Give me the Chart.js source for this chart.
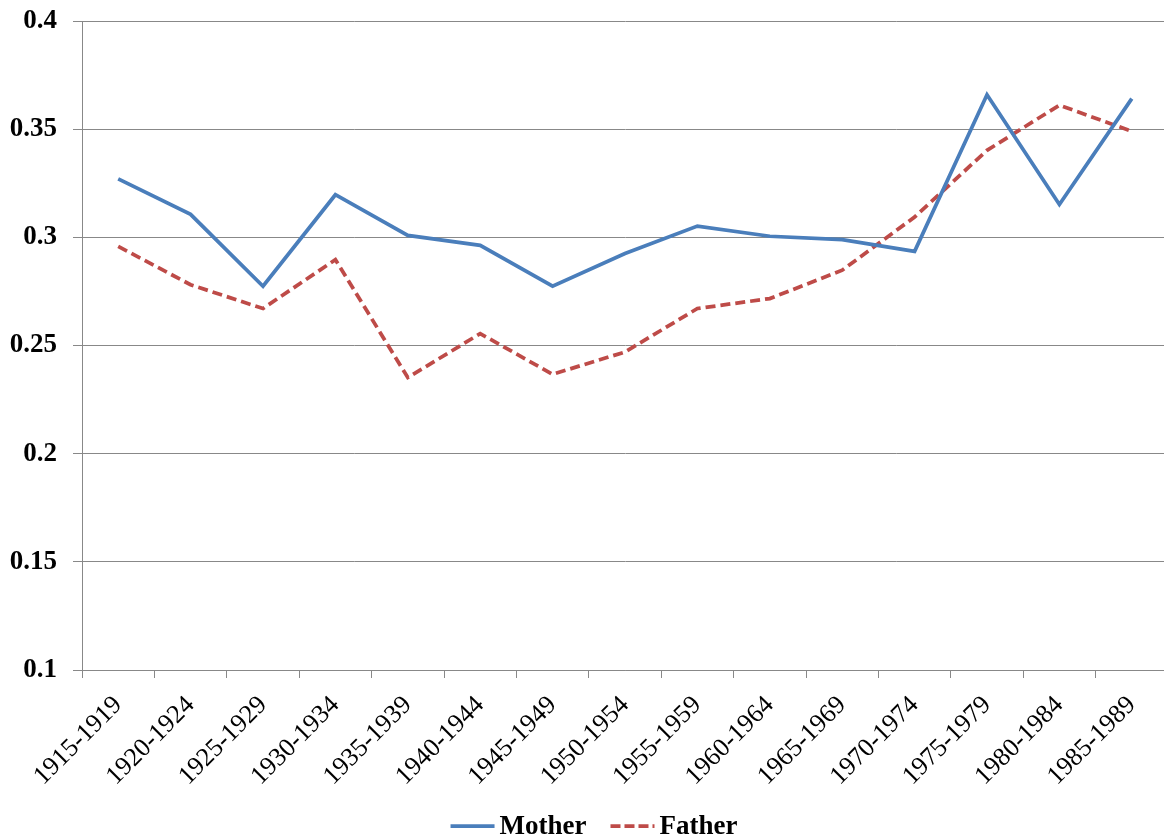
<!DOCTYPE html>
<html>
<head>
<meta charset="utf-8">
<script src="https://cdn.jsdelivr.net/npm/chart.js@4/dist/chart.umd.min.js"></script>
<style>
  html, body { margin: 0; padding: 0; background: #fff; overflow: hidden; }
  #wrap { width: 1168px; height: 840px; }
</style>
</head>
<body>
<div id="wrap"><canvas id="chart" width="1168" height="840"></canvas></div>
<script>
// Birth cohorts along the x axis
var cohorts = ['1915-1919', '1920-1924', '1925-1929', '1930-1934', '1935-1939',
  '1940-1944', '1945-1949', '1950-1954', '1955-1959', '1960-1964',
  '1965-1969', '1970-1974', '1975-1979', '1980-1984', '1985-1989'];

var motherValues = [0.327, 0.3106, 0.2774, 0.3197, 0.3009, 0.2963, 0.2774, 0.2925,
  0.3052, 0.3005, 0.2989, 0.2935, 0.3659, 0.3152, 0.3641];

var fatherValues = [0.2958, 0.2781, 0.2671, 0.2897, 0.2352, 0.2555, 0.2367, 0.2470,
  0.2671, 0.2717, 0.2848, 0.3094, 0.3402, 0.3611, 0.3490];

var yMin = 0.1;
var yMax = 0.4;
var yStep = 0.05;

var serif = "'Liberation Serif', 'Times New Roman', serif";
var gridGray = '#888888';
var motherColor = '#4a7ebb';
var fatherColor = '#be4b48';
var fatherDash = [10, 5];

// Legend drawn by hand so the dashed sample shows up as dashes
var bottomLegend = {
  id: 'bottomLegend',
  afterDraw: function(chart) {
    var c = chart.ctx;
    var y = 826;
    var sampleW = 44;
    var font = 'bold 27px ' + serif;
    c.save();
    c.font = font;
    var items = chart.data.datasets.map(function(ds) {
      return { ds: ds, w: c.measureText(ds.label).width };
    });
    var gapText = 5, gapItem = 24;
    var total = 0;
    items.forEach(function(it, i) {
      total += sampleW + gapText + it.w + (i < items.length - 1 ? gapItem : 0);
    });
    var x = 594 - total / 2;
    items.forEach(function(it) {
      c.beginPath();
      c.lineWidth = it.ds.borderWidth;
      c.strokeStyle = it.ds.borderColor;
      c.setLineDash(it.ds.borderDash ? [10, 4] : []);
      c.moveTo(x, y);
      c.lineTo(x + sampleW, y);
      c.stroke();
      c.setLineDash([]);
      c.fillStyle = '#000';
      c.textBaseline = 'middle';
      c.textAlign = 'left';
      c.fillText(it.ds.label, x + sampleW + gapText, y + 1);
      x += sampleW + gapText + it.w + gapItem;
    });
    c.restore();
  }
};

var ctx = document.getElementById('chart');

new Chart(ctx, {
  type: 'line',
  data: {
    labels: cohorts,
    datasets: [
      {
        label: 'Mother',
        data: motherValues,
        borderColor: motherColor,
        backgroundColor: motherColor,
        borderWidth: 3.75,
        pointRadius: 0,
        tension: 0,
        fill: false
      },
      {
        label: 'Father',
        data: fatherValues,
        borderColor: fatherColor,
        backgroundColor: fatherColor,
        borderWidth: 3.75,
        borderDash: fatherDash,
        pointRadius: 0,
        tension: 0,
        fill: false
      }
    ]
  },
  options: {
    responsive: false,
    animation: false,
    layout: {
      padding: { top: 21, left: 0, right: 0, bottom: 46 }
    },
    plugins: {
      tooltip: { enabled: false },
      legend: { display: false }
    },
    scales: {
      x: {
        offset: true,
        grid: {
          offset: true,
          drawOnChartArea: false,
          drawTicks: true,
          tickLength: 8,
          color: gridGray
        },
        border: { display: true, color: gridGray, width: 1 },
        ticks: {
          autoSkip: false,
          minRotation: 45,
          maxRotation: 45,
          padding: 12,
          color: '#000',
          font: { family: serif, size: 26 }
        },
        afterFit: function(scale) {
          scale.height = 124;
          scale.paddingLeft = 0;
          scale.paddingRight = 0;
        }
      },
      y: {
        min: yMin,
        max: yMax,
        grid: {
          color: gridGray,
          tickLength: 9,
          lineWidth: 1
        },
        border: { display: true, color: gridGray, width: 1 },
        ticks: {
          stepSize: yStep,
          padding: 16,
          color: '#000',
          font: { family: serif, size: 27, weight: 'bold' },
          callback: function(value) {
            return String(Number(value.toFixed(2)));
          }
        },
        afterFit: function(scale) {
          scale.width = 82;
          scale.paddingTop = 0;
          scale.paddingBottom = 0;
        }
      }
    }
  },
  plugins: [bottomLegend]
});
</script>
</body>
</html>
